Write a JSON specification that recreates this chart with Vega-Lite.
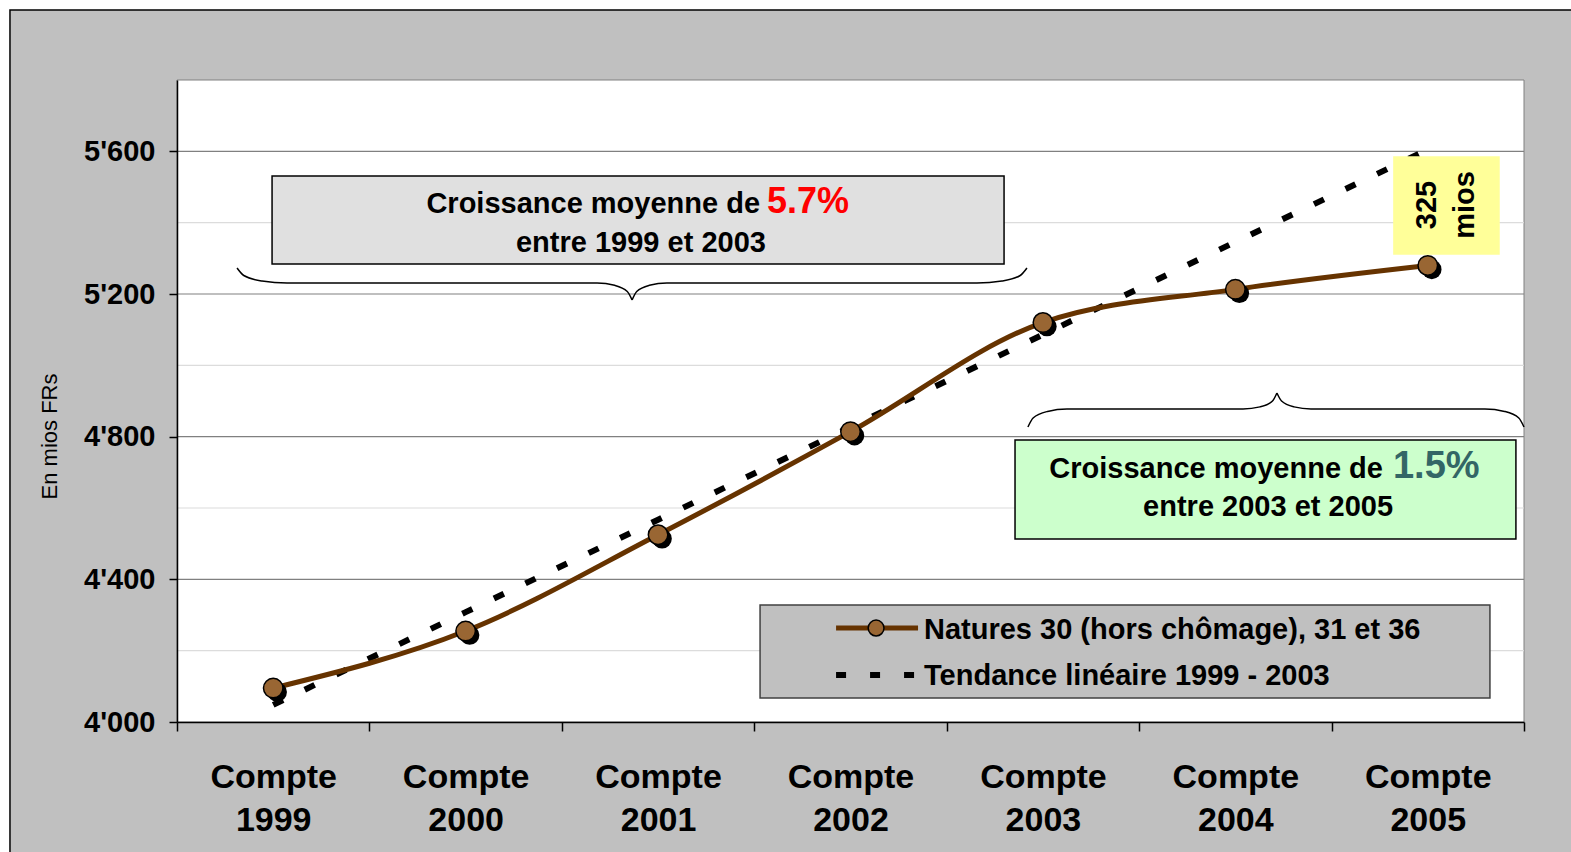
{
  "$schema": "https://vega.github.io/schema/vega-lite/v6.json",
  "width": 1347,
  "height": 642,
  "autosize": "none",
  "padding": {"left": 177, "top": 80, "right": 47, "bottom": 130},
  "background": "#ffffff",
  "config": {"view": {"stroke": null}, "font": "Liberation Sans"},
  "datasets": {
    "series": [
      {"year": 1999, "value": 4095, "trend": 4048},
      {"year": 2000, "value": 4255, "trend": 4308},
      {"year": 2001, "value": 4525, "trend": 4567},
      {"year": 2002, "value": 4814, "trend": 4827},
      {"year": 2003, "value": 5120, "trend": 5086},
      {"year": 2004, "value": 5213, "trend": 5346},
      {"year": 2005, "value": 5280, "trend": 5605}
    ],
    "braces": [
      {"brace": "a1", "x": 1998.812, "y": 5272.9},
      {"brace": "a1", "x": 1998.847, "y": 5251.9},
      {"brace": "a1", "x": 1998.942, "y": 5236.4},
      {"brace": "a1", "x": 1999.072, "y": 5230.8},
      {"brace": "a1", "x": 2000.683, "y": 5230.8},
      {"brace": "a1", "x": 2000.774, "y": 5224.4},
      {"brace": "a1", "x": 2000.840, "y": 5207.0},
      {"brace": "a1", "x": 2000.865, "y": 5183.2},
      {"brace": "a2", "x": 2000.865, "y": 5183.2},
      {"brace": "a2", "x": 2000.889, "y": 5207.0},
      {"brace": "a2", "x": 2000.955, "y": 5224.4},
      {"brace": "a2", "x": 2001.046, "y": 5230.8},
      {"brace": "a2", "x": 2002.657, "y": 5230.8},
      {"brace": "a2", "x": 2002.787, "y": 5236.4},
      {"brace": "a2", "x": 2002.882, "y": 5251.9},
      {"brace": "a2", "x": 2002.917, "y": 5272.9},
      {"brace": "b1", "x": 2002.922, "y": 4827.1},
      {"brace": "b1", "x": 2002.949, "y": 4852.3},
      {"brace": "b1", "x": 2003.024, "y": 4870.8},
      {"brace": "b1", "x": 2003.125, "y": 4877.6},
      {"brace": "b1", "x": 2004.040, "y": 4877.6},
      {"brace": "b1", "x": 2004.128, "y": 4883.5},
      {"brace": "b1", "x": 2004.193, "y": 4900.0},
      {"brace": "b1", "x": 2004.216, "y": 4922.4},
      {"brace": "b2", "x": 2004.216, "y": 4922.4},
      {"brace": "b2", "x": 2004.240, "y": 4900.0},
      {"brace": "b2", "x": 2004.305, "y": 4883.5},
      {"brace": "b2", "x": 2004.393, "y": 4877.6},
      {"brace": "b2", "x": 2005.297, "y": 4877.6},
      {"brace": "b2", "x": 2005.399, "y": 4870.8},
      {"brace": "b2", "x": 2005.473, "y": 4852.3},
      {"brace": "b2", "x": 2005.5, "y": 4827.1}
    ],
    "boxes": [
      {"name": "gris", "x1": 1998.994, "x2": 2002.798, "y1": 5530.8, "y2": 5284.1},
      {"name": "vert", "x1": 2002.855, "x2": 2005.458, "y1": 4790.6, "y2": 4513.1},
      {"name": "jaune", "x1": 2004.824, "x2": 2005.370, "y1": 5584.1, "y2": 5312.1},
      {"name": "legende", "x1": 2001.530, "x2": 2005.323, "y1": 4328, "y2": 4067.3}
    ]
  },
  "layer": [
    {
      "data": {"values": [{"x1": 1997.632, "x2": 2007, "y1": 5996, "y2": 3300}]},
      "mark": {"type": "rect", "fill": "#c0c0c0", "stroke": "#000000", "strokeWidth": 1.5, "clip": false},
      "encoding": {
        "x": {
          "field": "x1", "type": "quantitative",
          "scale": {"domain": [1998.5, 2005.5], "nice": false, "zero": false},
          "axis": {
            "title": null, "zindex": 1, "grid": false,
            "values": [1998.5, 1999.5, 2000.5, 2001.5, 2002.5, 2003.5, 2004.5, 2005.5],
            "labelExpr": "datum.value < 2005 ? ['Compte', format(datum.value + 0.5, 'd')] : ''",
            "labelOffset": 96.2, "labelFlush": false, "labelBound": false, "labelOverlap": false,
            "labelFont": "Liberation Sans", "labelFontWeight": "bold", "labelFontSize": 34,
            "labelColor": "#000000", "labelLineHeight": 43, "labelPadding": 29,
            "domainColor": "#000000", "domainWidth": 1.5, "tickColor": "#000000", "tickWidth": 1.5, "tickSize": 9
          }
        },
        "x2": {"field": "x2"},
        "y": {
          "field": "y1", "type": "quantitative",
          "scale": {"domain": [4000, 5800], "nice": false, "zero": false},
          "axis": {
            "title": "En mios FRs", "zindex": 1, "grid": false,
            "values": [4000, 4400, 4800, 5200, 5600],
            "labelExpr": "replace(format(datum.value, ',d'), ',', \"'\")",
            "labelFont": "Liberation Sans", "labelFontWeight": "bold", "labelFontSize": 29,
            "labelColor": "#000000", "labelPadding": 14,
            "domainColor": "#000000", "domainWidth": 1.5, "tickColor": "#000000", "tickWidth": 1.5, "tickSize": 8,
            "titleFont": "Liberation Sans", "titleFontWeight": "normal", "titleFontSize": 22, "titleColor": "#000000",
            "titleX": -128, "titleY": 356, "titleAlign": "center", "titleBaseline": "middle", "titleAngle": 270
          }
        },
        "y2": {"field": "y2"}
      }
    },
    {
      "data": {"values": [{"x1": 1998.5, "x2": 2005.5, "y1": 4000, "y2": 5800}]},
      "mark": {"type": "rect", "fill": "#ffffff", "stroke": "#808080", "strokeWidth": 1},
      "encoding": {
        "x": {"field": "x1", "type": "quantitative"},
        "x2": {"field": "x2"},
        "y": {"field": "y1", "type": "quantitative"},
        "y2": {"field": "y2"}
      }
    },
    {
      "data": {"values": [{"v": 4200}, {"v": 4600}, {"v": 5000}, {"v": 5400}]},
      "mark": {"type": "rule", "color": "#dcdcdc", "strokeWidth": 1.2},
      "encoding": {"y": {"field": "v", "type": "quantitative"}}
    },
    {
      "data": {"values": [{"v": 4400}, {"v": 4800}, {"v": 5200}, {"v": 5600}]},
      "mark": {"type": "rule", "color": "#808080", "strokeWidth": 1.2},
      "encoding": {"y": {"field": "v", "type": "quantitative"}}
    },
    {
      "data": {"name": "series"},
      "mark": {"type": "line", "color": "#000000", "strokeWidth": 6, "strokeDash": [11, 24], "strokeCap": "butt"},
      "encoding": {
        "x": {"field": "year", "type": "quantitative"},
        "y": {"field": "trend", "type": "quantitative"}
      }
    },
    {
      "data": {"name": "series"},
      "mark": {"type": "line", "color": "#663300", "strokeWidth": 5, "interpolate": "monotone"},
      "encoding": {
        "x": {"field": "year", "type": "quantitative"},
        "y": {"field": "value", "type": "quantitative"}
      }
    },
    {
      "data": {"name": "series"},
      "mark": {"type": "circle", "fill": "#000000", "size": 380, "opacity": 1, "xOffset": 4, "yOffset": 4},
      "encoding": {
        "x": {"field": "year", "type": "quantitative"},
        "y": {"field": "value", "type": "quantitative"}
      }
    },
    {
      "data": {"name": "series"},
      "mark": {"type": "circle", "fill": "#996633", "stroke": "#000000", "strokeWidth": 1.5, "size": 380, "opacity": 1},
      "encoding": {
        "x": {"field": "year", "type": "quantitative"},
        "y": {"field": "value", "type": "quantitative"}
      }
    },
    {
      "data": {"name": "braces"},
      "mark": {"type": "line", "color": "#000000", "strokeWidth": 1.5, "interpolate": "monotone"},
      "encoding": {
        "x": {"field": "x", "type": "quantitative"},
        "y": {"field": "y", "type": "quantitative"},
        "detail": {"field": "brace", "type": "nominal"}
      }
    },
    {
      "data": {"name": "boxes"},
      "mark": {"type": "rect", "strokeWidth": 1.5, "opacity": 1},
      "encoding": {
        "x": {"field": "x1", "type": "quantitative"},
        "x2": {"field": "x2"},
        "y": {"field": "y1", "type": "quantitative"},
        "y2": {"field": "y2"},
        "fill": {"field": "name", "type": "nominal", "legend": null,
          "scale": {"domain": ["gris", "vert", "jaune", "legende"], "range": ["#e0e0e0", "#ccffcc", "#ffff99", "#c0c0c0"]}},
        "stroke": {"field": "name", "type": "nominal", "legend": null,
          "scale": {"domain": ["gris", "vert", "jaune", "legende"], "range": ["#000000", "#000000", "#ffff99", "#404040"]}}
      }
    },
    {
      "data": {"values": [
        {"t": "Croissance moyenne de", "x": 2001.530, "y": 5427.1},
        {"t": "Croissance moyenne de", "x": 2004.767, "y": 4684.1}
      ]},
      "mark": {"type": "text", "align": "right", "baseline": "alphabetic", "fontSize": 29, "fontWeight": "bold", "color": "#000000", "font": "Liberation Sans"},
      "encoding": {
        "x": {"field": "x", "type": "quantitative"},
        "y": {"field": "y", "type": "quantitative"},
        "text": {"field": "t"}
      }
    },
    {
      "data": {"values": [{"t": "5.7%", "x": 2001.566, "y": 5427.1}]},
      "mark": {"type": "text", "align": "left", "baseline": "alphabetic", "fontSize": 36, "fontWeight": "bold", "color": "#ff0000", "font": "Liberation Sans"},
      "encoding": {
        "x": {"field": "x", "type": "quantitative"},
        "y": {"field": "y", "type": "quantitative"},
        "text": {"field": "t"}
      }
    },
    {
      "data": {"values": [{"t": "1.5%", "x": 2004.819, "y": 4684.1}]},
      "mark": {"type": "text", "align": "left", "baseline": "alphabetic", "fontSize": 38, "fontWeight": "bold", "color": "#336666", "font": "Liberation Sans"},
      "encoding": {
        "x": {"field": "x", "type": "quantitative"},
        "y": {"field": "y", "type": "quantitative"},
        "text": {"field": "t"}
      }
    },
    {
      "data": {"values": [
        {"t": "entre 1999 et 2003", "x": 2000.911, "y": 5317.8},
        {"t": "entre 2003 et 2005", "x": 2004.170, "y": 4577.6}
      ]},
      "mark": {"type": "text", "align": "center", "baseline": "alphabetic", "fontSize": 29, "fontWeight": "bold", "color": "#000000", "font": "Liberation Sans"},
      "encoding": {
        "x": {"field": "x", "type": "quantitative"},
        "y": {"field": "y", "type": "quantitative"},
        "text": {"field": "t"}
      }
    },
    {
      "data": {"values": [
        {"t": "325", "x": 2004.996, "y": 5449.5},
        {"t": "mios", "x": 2005.193, "y": 5449.5}
      ]},
      "mark": {"type": "text", "align": "center", "baseline": "middle", "angle": 270, "fontSize": 29, "fontWeight": "bold", "color": "#000000", "font": "Liberation Sans"},
      "encoding": {
        "x": {"field": "x", "type": "quantitative"},
        "y": {"field": "y", "type": "quantitative"},
        "text": {"field": "t"}
      }
    },
    {
      "data": {"values": [
        {"t": "Natures 30 (hors chômage), 31 et 36", "x": 2002.382, "y": 4258},
        {"t": "Tendance linéaire 1999 - 2003", "x": 2002.382, "y": 4129}
      ]},
      "mark": {"type": "text", "align": "left", "baseline": "middle", "fontSize": 29, "fontWeight": "bold", "color": "#000000", "font": "Liberation Sans"},
      "encoding": {
        "x": {"field": "x", "type": "quantitative"},
        "y": {"field": "y", "type": "quantitative"},
        "text": {"field": "t"}
      }
    },
    {
      "data": {"values": [{"x": 2001.925, "y": 4263.5}, {"x": 2002.351, "y": 4263.5}]},
      "mark": {"type": "line", "color": "#663300", "strokeWidth": 5},
      "encoding": {
        "x": {"field": "x", "type": "quantitative"},
        "y": {"field": "y", "type": "quantitative"}
      }
    },
    {
      "data": {"values": [{"x": 2001.925, "y": 4131.8}, {"x": 2002.351, "y": 4131.8}]},
      "mark": {"type": "line", "color": "#000000", "strokeWidth": 6, "strokeDash": [10, 24], "strokeCap": "butt"},
      "encoding": {
        "x": {"field": "x", "type": "quantitative"},
        "y": {"field": "y", "type": "quantitative"}
      }
    },
    {
      "data": {"values": [{"x": 2002.133, "y": 4263.5}]},
      "mark": {"type": "circle", "fill": "#996633", "stroke": "#000000", "strokeWidth": 1.5, "size": 250, "opacity": 1},
      "encoding": {
        "x": {"field": "x", "type": "quantitative"},
        "y": {"field": "y", "type": "quantitative"}
      }
    }
  ]
}
